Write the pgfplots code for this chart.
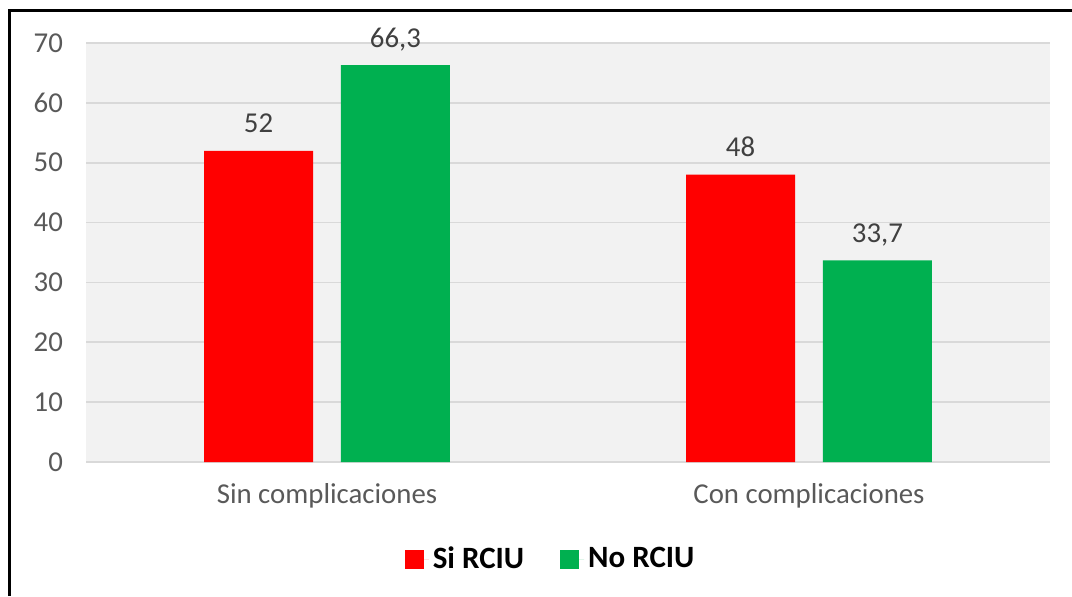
\documentclass[border=0pt]{standalone}
\usepackage{pgfplots}
\pgfplotsset{compat=1.18}
\usepackage{fontspec}
\setmainfont{Carlito}
\definecolor{barred}{HTML}{FF0000}
\definecolor{bargreen}{HTML}{00B050}
\definecolor{plotbg}{HTML}{F2F2F2}
\definecolor{gridc}{HTML}{D9D9D9}
\definecolor{ticktxt}{HTML}{595959}
\definecolor{valtxt}{HTML}{404040}

\begin{document}
\begin{tikzpicture}
\path[use as bounding box] (0,0) rectangle (536pt,298pt);
\begin{axis}[
    at={(43pt,67pt)}, anchor=south west,
    scale only axis,
    width=482pt, height=209.5pt,
    ybar, bar width=0.226,
    xmin=-0.5, xmax=1.5,
    ymin=0, ymax=70,
    xtick={0,1},
    xticklabels={Sin complicaciones, Con complicaciones},
    ytick={0,10,...,70},
    major tick length=0pt,
    axis line style={draw=none},
    axis background/.style={fill=plotbg},
    ymajorgrids=true,
    grid style={gridc, line width=0.8pt},
    ticklabel style={font=\fontsize{14.4}{16}\selectfont, text=ticktxt},
    yticklabel style={xshift=-8pt},
    xticklabel style={yshift=-7pt},
    /pgf/number format/assume math mode=true,
    /pgf/number format/use comma,
    nodes near coords,
    every node near coord/.append style={font=\fontsize{14.4}{16}\selectfont, text=valtxt, anchor=base, inner sep=0pt, yshift=9pt},
    legend columns=2,
    legend style={draw=none, fill=none, at={(0.483,-0.2315)}, anchor=center,
        font=\bfseries\fontsize{15.5}{17}\selectfont,
        /tikz/every even column/.append style={column sep=16pt}},
    legend image code/.code={\fill[#1] (0pt,-4.75pt) rectangle (9.5pt,4.75pt);
        \path (0pt,0pt) -- (12pt,0pt);},
]
\addplot[bar shift=-0.142, fill=barred, draw=none]
    coordinates {(0,52) (1,48)};
\addlegendentry{Si RCIU}
\addplot[bar shift=0.142, fill=bargreen, draw=none]
    coordinates {(0,66.3) (1,33.7)};
\addlegendentry{No RCIU}
\end{axis}
\draw[line width=1.5pt] (4.5pt,0) -- (4.5pt,292.5pt) -- (536pt,292.5pt);
\end{tikzpicture}
\end{document}
